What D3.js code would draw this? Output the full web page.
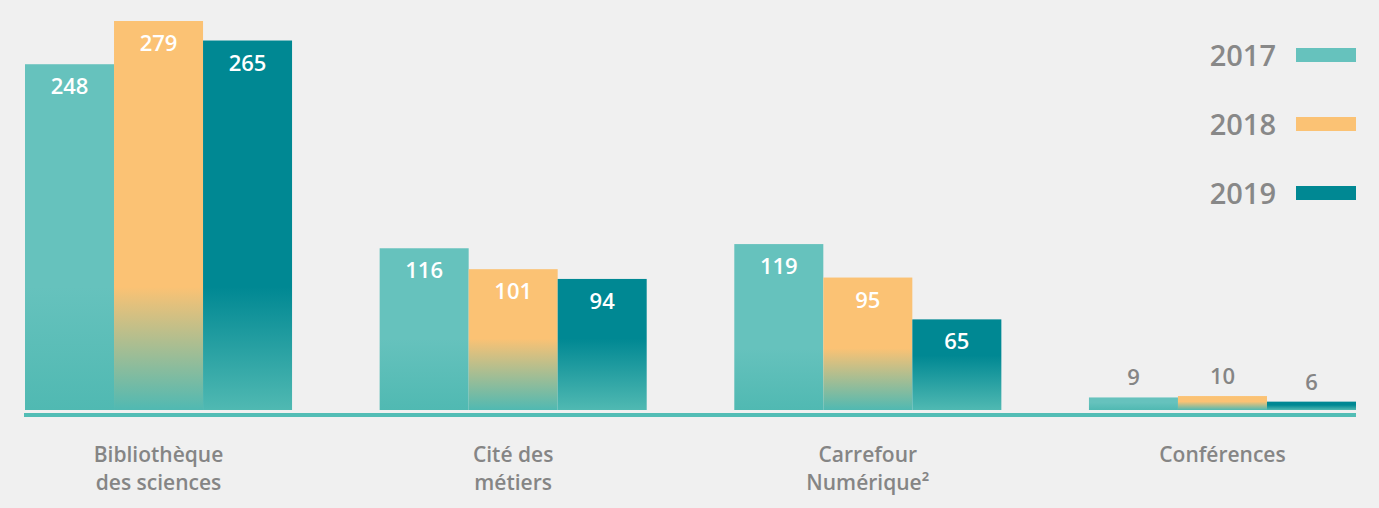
<!DOCTYPE html>
<html>
<head>
<meta charset="utf-8">
<script src="https://cdn.jsdelivr.net/npm/d3@7"></script>
<style>
  html, body { margin: 0; padding: 0; background: #f0f0f0; }
  svg { display: block; }
</style>
</head>
<body>
<div id="container"></div>
<script>
// Chart data
const categories = [["Bibliothèque", "des sciences"], ["Cité des", "métiers"], ["Carrefour", "Numérique²"], ["Conférences"]];
const years = ["2017", "2018", "2019"];
const values2017 = [248, 116, 119, 9];
const values2018 = [279, 101, 95, 10];
const values2019 = [265, 94, 65, 6];

const series = [values2017, values2018, values2019];
const colors = ["#66c2bd", "#fbc274", "#008893"];
const bottomColor = "#50b9b2";

const width = 1379, height = 508;
const baseY = 410;

const svg = d3.select('#container')
  .append('svg')
  .attr('width', width)
  .attr('height', height);

svg.append('rect').attr('width', width).attr('height', height).attr('fill', '#f0f0f0');

// Scales
const x0 = d3.scaleBand()
  .domain(d3.range(categories.length))
  .range([25, 1356])
  .paddingInner(0.247)
  .paddingOuter(0);

const x1 = d3.scaleBand()
  .domain(years)
  .range([0, x0.bandwidth()]);

const y = d3.scaleLinear()
  .domain([0, 279])
  .range([baseY, 21]);

const color = d3.scaleOrdinal().domain(years).range(colors);

// Flatten the data
let bars = [];
categories.forEach((c, i) => {
  years.forEach((yr, j) => {
    bars.push({cat: i, year: yr, value: series[j][i]});
  });
});

// Gradients (fade to teal at the bottom)
const defs = svg.append('defs');
bars.forEach((d, k) => {
  const h = baseY - y(d.value);
  const minH = baseY - y(d3.min(series, s => s[d.cat]));
  let g = Math.min(40 + 0.24 * minH, h * 0.6);
  const grad = defs.append('linearGradient')
    .attr('id', 'grad' + k)
    .attr('gradientUnits', 'userSpaceOnUse')
    .attr('x1', 0).attr('x2', 0)
    .attr('y1', baseY - g).attr('y2', baseY);
  grad.append('stop').attr('offset', 0).attr('stop-color', color(d.year));
  grad.append('stop').attr('offset', 1).attr('stop-color', bottomColor);
});

// Bars
svg.append('g')
  .selectAll('rect')
  .data(bars)
  .enter()
  .append('rect')
  .attr('x', d => x0(d.cat) + x1(d.year))
  .attr('y', d => y(d.value))
  .attr('width', x1.bandwidth())
  .attr('height', d => baseY - y(d.value))
  .attr('fill', (d, k) => 'url(#grad' + k + ')');

// Baseline
svg.append('rect')
  .attr('x', 24)
  .attr('y', 413)
  .attr('width', 1356 - 24)
  .attr('height', 4)
  .attr('fill', '#52bdb5');

// Value labels
svg.append('g')
  .selectAll('text')
  .data(bars)
  .enter()
  .append('text')
  .attr('x', d => x0(d.cat) + x1(d.year) + x1.bandwidth() / 2)
  .attr('y', d => (baseY - y(d.value)) > 40 ? y(d.value) + 30 : y(d.value) - 12)
  .attr('text-anchor', 'middle')
  .style('font-family', '"Open Sans", sans-serif')
  .style('font-weight', 600)
  .style('font-size', '22px')
  .attr('fill', d => (baseY - y(d.value)) > 40 ? '#ffffff' : '#858585')
  .text(d => d.value);

// Category labels
const catLabels = svg.append('g')
  .selectAll('text')
  .data(categories)
  .enter()
  .append('text')
  .attr('x', (d, i) => x0(i) + x0.bandwidth() / 2)
  .attr('y', 462)
  .attr('text-anchor', 'middle')
  .style('font-family', '"Open Sans", sans-serif')
  .style('font-weight', 600)
  .style('font-size', '21px')
  .attr('fill', '#858585');

catLabels.selectAll('tspan')
  .data(d => d)
  .enter()
  .append('tspan')
  .attr('x', function(){ return d3.select(this.parentNode).attr('x'); })
  .attr('dy', (d, i) => i === 0 ? 0 : 28)
  .text(d => d);

// Legend
const legend = svg.append('g')
  .selectAll('g')
  .data(years)
  .enter()
  .append('g')
  .attr('transform', (d, i) => 'translate(0,' + (55 + i * 69) + ')');

legend.append('text')
  .attr('x', 1276)
  .attr('y', 11)
  .attr('text-anchor', 'end')
  .style('font-family', '"Open Sans", sans-serif')
  .style('font-weight', 600)
  .style('font-size', '29px')
  .attr('fill', '#888888')
  .text(d => d);

legend.append('rect')
  .attr('x', 1296)
  .attr('y', -7)
  .attr('width', 60)
  .attr('height', 14)
  .attr('fill', d => color(d));
</script>
</body>
</html>
